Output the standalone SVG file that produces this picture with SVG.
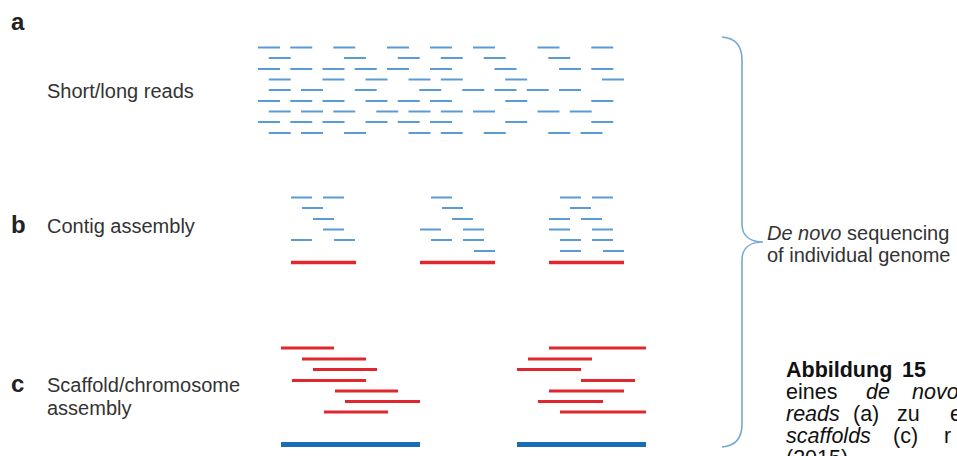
<svg xmlns="http://www.w3.org/2000/svg" width="957" height="456" viewBox="0 0 957 456">
<style>
.lab{font-family:"Liberation Sans",Arial,sans-serif;font-size:20px;fill:#333}
.res{font-family:"Liberation Sans",Arial,sans-serif;font-size:20px;fill:#333}
.big{font-family:"Liberation Sans",Arial,sans-serif;font-size:24px;font-weight:bold;fill:#222}
.cap{font-family:"Liberation Sans",Arial,sans-serif;font-size:21.5px;fill:#111}
.r{stroke:#5b9bd5;stroke-width:2;fill:none}
.red{stroke:#e0262e;stroke-width:3;fill:none}
.redb{stroke:#e0262e;stroke-width:3.5;fill:none}
.blue{stroke:#1a6db5;stroke-width:5;fill:none}
</style>
<defs>
<path id="s" d="M0,0h22"/>
<path id="c" d="M0,0h21"/>
</defs>
<rect width="957" height="456" fill="#fff"/>
<g id="labels">
<text class="big" x="11" y="30">a</text>
<text class="lab" x="47" y="98">Short/long reads</text>
<text class="big" x="11" y="233">b</text>
<text class="lab" x="47" y="233">Contig assembly</text>
<text class="big" x="11" y="392">c</text>
<text class="lab" x="47" y="392">Scaffold/chromosome</text>
<text class="lab" x="47" y="415">assembly</text>
</g>
<g id="reads" class="r">
<g transform="translate(0,47.5)"><use href="#s" x="258"/><use href="#s" x="290.25"/><use href="#s" x="333.25"/><use href="#s" x="387"/><use href="#s" x="430"/><use href="#s" x="473"/><use href="#s" x="537.5"/><use href="#s" x="591.25"/></g>
<g transform="translate(0,58)"><use href="#s" x="268.75"/><use href="#s" x="344"/><use href="#s" x="397.75"/><use href="#s" x="440.75"/><use href="#s" x="483.75"/><use href="#s" x="548.25"/></g>
<g transform="translate(0,69)"><use href="#s" x="258"/><use href="#s" x="290.25"/><use href="#s" x="322.5"/><use href="#s" x="354.75"/><use href="#s" x="387"/><use href="#s" x="430"/><use href="#s" x="494.5"/><use href="#s" x="559"/><use href="#s" x="591.25"/></g>
<g transform="translate(0,79.5)"><use href="#s" x="268.75"/><use href="#s" x="322.5"/><use href="#s" x="365.5"/><use href="#s" x="408.5"/><use href="#s" x="440.75"/><use href="#s" x="505.25"/><use href="#s" x="602"/></g>
<g transform="translate(0,90)"><use href="#s" x="268.75"/><use href="#s" x="301"/><use href="#s" x="354.75"/><use href="#s" x="419.25"/><use href="#s" x="462.25"/><use href="#s" x="494.5"/><use href="#s" x="526.75"/><use href="#s" x="559"/></g>
<g transform="translate(0,101)"><use href="#s" x="258"/><use href="#s" x="290.25"/><use href="#s" x="322.5"/><use href="#s" x="365.5"/><use href="#s" x="397.75"/><use href="#s" x="430"/><use href="#s" x="505.25"/><use href="#s" x="591.25"/></g>
<g transform="translate(0,111.5)"><use href="#s" x="268.75"/><use href="#s" x="301"/><use href="#s" x="333.25"/><use href="#s" x="376.25"/><use href="#s" x="408.5"/><use href="#s" x="440.75"/><use href="#s" x="473"/><use href="#s" x="537.5"/><use href="#s" x="569.75"/></g>
<g transform="translate(0,122)"><use href="#s" x="258"/><use href="#s" x="290.25"/><use href="#s" x="322.5"/><use href="#s" x="365.5"/><use href="#s" x="397.75"/><use href="#s" x="430"/><use href="#s" x="505.25"/><use href="#s" x="591.25"/></g>
<g transform="translate(0,133)"><use href="#s" x="268.75"/><use href="#s" x="301"/><use href="#s" x="344"/><use href="#s" x="408.5"/><use href="#s" x="440.75"/><use href="#s" x="483.75"/><use href="#s" x="548.25"/><use href="#s" x="580.5"/></g>
</g>
<g id="contig1">
<g class="r"><use href="#c" x="291" y="197.5"/><use href="#c" x="323" y="197.5"/><use href="#c" x="302" y="208"/><use href="#c" x="313" y="219"/><use href="#c" x="323" y="229.5"/><use href="#c" x="291" y="240"/><use href="#c" x="334" y="240"/></g>
<path class="redb" d="M291,262.5H356"/>
</g>
<g id="contig2">
<g class="r"><use href="#c" x="431" y="197.5"/><use href="#c" x="442" y="208"/><use href="#c" x="452" y="219"/><use href="#c" x="420" y="229.5"/><use href="#c" x="463" y="229.5"/><use href="#c" x="431" y="240"/><use href="#c" x="463" y="240"/><use href="#c" x="474" y="251"/></g>
<path class="redb" d="M420,262.5H495"/>
</g>
<g id="contig3">
<g class="r"><use href="#c" x="560" y="197.5"/><use href="#c" x="592" y="197.5"/><use href="#c" x="570" y="208"/><use href="#c" x="549" y="219"/><use href="#c" x="581" y="219"/><use href="#c" x="549" y="229.5"/><use href="#c" x="592" y="229.5"/><use href="#c" x="560" y="240"/><use href="#c" x="592" y="240"/><use href="#c" x="560" y="251"/><use href="#c" x="603" y="251"/></g>
<path class="redb" d="M549,262.5H624"/>
</g>
<g id="scaffold1">
<path class="red" d="M281,348H334M302,359H366M313,369.5H377M292,380.5H366M335,391H398M345,401.5H420M324,412H388"/>
<path class="blue" d="M281,444.5H420"/>
</g>
<g id="scaffold2">
<path class="red" d="M549,348H646M528,359H592M517,369.5H581M581,380.5H635M549,391H624M538,401.5H603M560,412H646"/>
<path class="blue" d="M517,444.5H646"/>
</g>
<g id="connectors">
<path d="M722,37 C736,38 742,46 742,60 L742,224 C742,236 750,242 763,242 C750,242 742,248 742,260 L742,424 C742,438 736,446 722,447" fill="none" stroke="#74a9d4" stroke-width="1.6"/>
</g>
<g id="result">
<text class="res" x="767" y="240"><tspan font-style="italic">De novo</tspan> sequencing</text>
<text class="res" x="767" y="262">of individual genome</text>
</g>
<g id="caption" class="cap">
<text y="377"><tspan x="786" font-weight="bold">Abbildung</tspan><tspan x="902" font-weight="bold">15</tspan></text>
<text y="399"><tspan x="786">eines</tspan><tspan x="866" font-style="italic">de</tspan><tspan x="912" font-style="italic">novo</tspan></text>
<text y="421"><tspan x="786" font-style="italic">reads</tspan><tspan x="853">(a)</tspan><tspan x="897">zu</tspan><tspan x="950">e</tspan></text>
<text y="443"><tspan x="786" font-style="italic">scaffolds</tspan><tspan x="893">(c)</tspan><tspan x="944">r</tspan></text>
<text y="465"><tspan x="786">(2015).</tspan></text>
</g>
</svg>
